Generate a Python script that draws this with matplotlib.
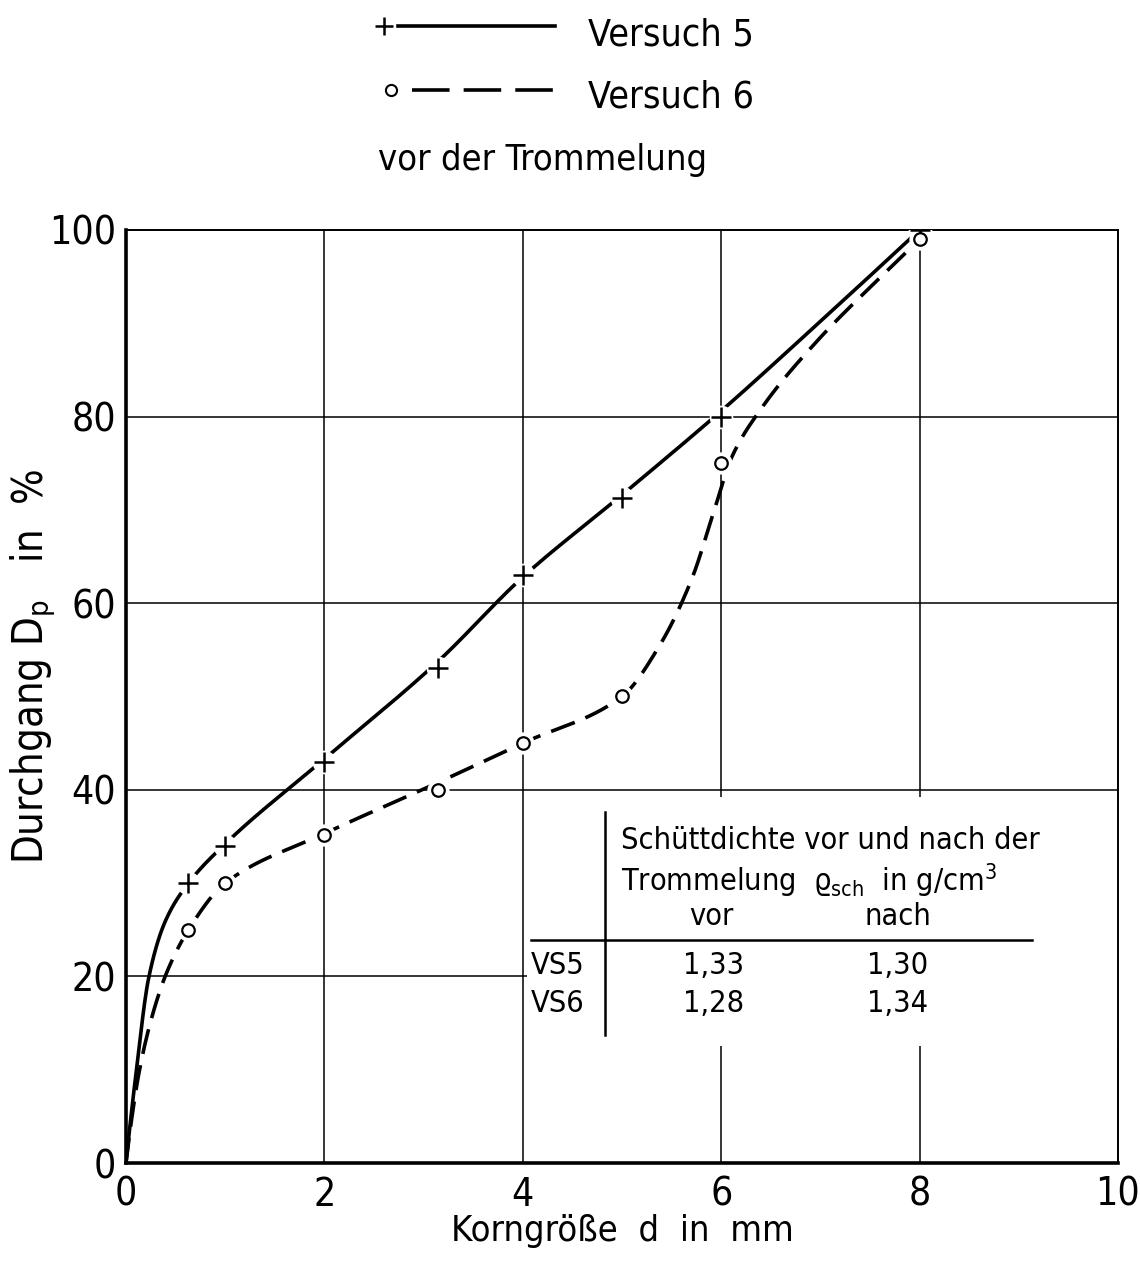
#!/usr/bin/env python3

import matplotlib
matplotlib.use('Agg')
import matplotlib.pyplot as plt
from matplotlib.lines import Line2D
from matplotlib.patches import Rectangle
import numpy as np

# Siebdurchgang (Korngröße in mm, Durchgang in %)
korn_v5 = [0.63, 1.0, 2.0, 3.15, 4.0, 5.0, 6.0, 8.0]
durchgang_v5 = [30.0, 34.0, 43.0, 53.0, 63.0, 71.3, 80.0, 100.0]
korn_v6 = [0.63, 1.0, 2.0, 3.15, 4.0, 5.0, 6.0, 8.0]
durchgang_v6 = [25.0, 30.0, 35.2, 40.0, 45.0, 50.0, 75.0, 99.0]

# Stützpunkte der von Hand gezogenen Ausgleichskurven
kurve_v5_x = [0.0, 0.1, 0.23, 0.4, 0.63, 1.0, 2.0, 3.15, 4.0, 5.0, 6.0, 7.0,
              8.0]
kurve_v5_y = [0.0, 9.5, 19.9, 26.0, 30.0, 34.2, 43.3, 53.8, 62.8, 71.6,
              80.6, 90.2, 100.0]
kurve_v6_x = [0.0, 0.13, 0.26, 0.41, 0.63, 1.0, 2.0, 3.15, 4.0, 5.0, 5.37,
              5.7, 5.94, 6.1, 6.4, 6.95, 7.65, 8.0]
kurve_v6_y = [0.0, 9.6, 15.6, 20.4, 25.0, 30.0, 35.3, 40.8, 45.0, 50.0,
              55.3, 62.5, 70.3, 75.5, 80.8, 87.9, 95.4, 99.0]

# Schüttdichte in g/cm3
proben = ['VS5', 'VS6']
dichte_vor = [1.33, 1.28]
dichte_nach = [1.30, 1.34]

x_ticks = [0, 2, 4, 6, 8, 10]
y_ticks = [0, 20, 40, 60, 80, 100]

FONT = 'DejaVu Sans'


def pchip(x, y, xs):
    """Monotone kubische Interpolation (Fritsch-Carlson)."""
    x = np.asarray(x, float)
    y = np.asarray(y, float)
    h = np.diff(x)
    d = np.diff(y) / h
    m = np.zeros_like(y)
    for k in range(1, len(x) - 1):
        if d[k - 1] * d[k] > 0:
            w1 = 2 * h[k] + h[k - 1]
            w2 = h[k] + 2 * h[k - 1]
            m[k] = (w1 + w2) / (w1 / d[k - 1] + w2 / d[k])
    m[0] = ((2 * h[0] + h[1]) * d[0] - h[0] * d[1]) / (h[0] + h[1])
    if np.sign(m[0]) != np.sign(d[0]):
        m[0] = 0.0
    m[-1] = ((2 * h[-1] + h[-2]) * d[-1] - h[-1] * d[-2]) / (h[-1] + h[-2])
    if np.sign(m[-1]) != np.sign(d[-1]):
        m[-1] = 0.0
    i = np.clip(np.searchsorted(x, xs) - 1, 0, len(h) - 1)
    t = (xs - x[i]) / h[i]
    h00 = 2 * t**3 - 3 * t**2 + 1
    h10 = t**3 - 2 * t**2 + t
    h01 = -2 * t**3 + 3 * t**2
    h11 = t**3 - t**2
    return h00 * y[i] + h10 * h[i] * m[i] + h01 * y[i + 1] + h11 * h[i] * m[i + 1]


def main():
    plt.rcParams['font.family'] = FONT
    plt.rcParams['font.stretch'] = 'condensed'
    plt.rcParams['mathtext.fontset'] = 'custom'
    plt.rcParams['mathtext.rm'] = FONT + ':stretch=condensed'
    plt.rcParams['mathtext.it'] = FONT + ':stretch=condensed'

    fig = plt.figure(figsize=(11.4, 12.69), dpi=100)
    ax = fig.add_axes([0.1105, 0.0835, 0.8702, 0.7353])

    ax.set_xlim(0, 10)
    ax.set_ylim(0, 100)
    ax.set_xticks(x_ticks)
    ax.set_yticks(y_ticks)
    ax.set_xticklabels([str(v) for v in x_ticks])
    ax.set_yticklabels([str(v) for v in y_ticks])
    ax.tick_params(length=0, labelsize=28, colors='black')
    ax.tick_params(axis='x', pad=9)
    ax.tick_params(axis='y', pad=7)
    ax.grid(True, color='black', linewidth=1.1)
    ax.set_axisbelow(True)
    for side in ('left', 'bottom'):
        ax.spines[side].set_linewidth(2.6)
    for side in ('top', 'right'):
        ax.spines[side].set_linewidth(1.4)

    ax.set_xlabel('Korngröße  d  in  mm', fontsize=26, labelpad=0)
    ax.set_ylabel(r'Durchgang $\mathrm{D_p}$   in  %', fontsize=30)
    ax.yaxis.set_label_coords(-0.069, 0.532)

    # Ausgleichskurven
    xs5 = np.linspace(kurve_v5_x[0], kurve_v5_x[-1], 800)
    ax.plot(xs5, pchip(kurve_v5_x, kurve_v5_y, xs5), color='black',
            linewidth=2.6, solid_capstyle='butt', zorder=3)
    xs6 = np.linspace(kurve_v6_x[0], kurve_v6_x[-1], 800)
    ax.plot(xs6, pchip(kurve_v6_x, kurve_v6_y, xs6), color='black',
            linewidth=2.6, dashes=(7, 3.2), zorder=3)

    # Messpunkte mit weißem Freiraum um die Zeichen
    ax.plot(korn_v5, durchgang_v5, linestyle='none', marker='o',
            markersize=17, markerfacecolor='white', markeredgewidth=0,
            zorder=4)
    ax.plot(korn_v6, durchgang_v6, linestyle='none', marker='o',
            markersize=16, markerfacecolor='white', markeredgewidth=0,
            zorder=4)
    ax.plot(korn_v5, durchgang_v5, linestyle='none', marker='+',
            markersize=15, markeredgewidth=1.8, color='black', zorder=5)
    ax.plot(korn_v6, durchgang_v6, linestyle='none', marker='o',
            markersize=9, markeredgewidth=1.6, markerfacecolor='white',
            markeredgecolor='black', zorder=5)

    # Tabelle der Schüttdichten
    ax.add_patch(Rectangle((4.04, 12.5), 5.96, 26.7, facecolor='white',
                           edgecolor='none', zorder=1))
    ax.plot([4.83, 4.83], [13.7, 37.6], color='black', linewidth=1.8,
            zorder=2)
    ax.plot([4.08, 9.13], [23.9, 23.9], color='black', linewidth=1.8,
            zorder=2)
    tsize = 22
    ax.text(4.99, 34.6, 'Schüttdichte vor und nach der', fontsize=tsize,
            ha='left', va='center', zorder=2)
    ax.text(4.99, 30.3,
            r'Trommelung  $\varrho_{\mathrm{sch}}$  in g/cm$^3$',
            fontsize=tsize, ha='left', va='center', zorder=2)
    ax.text(5.9, 26.4, 'vor', fontsize=tsize, ha='center', va='center',
            zorder=2)
    ax.text(7.78, 26.4, 'nach', fontsize=tsize, ha='center', va='center',
            zorder=2)
    for probe, vor, nach, y in zip(proben, dichte_vor, dichte_nach,
                                   [21.2, 17.1]):
        ax.text(4.08, y, probe, fontsize=tsize, ha='left', va='center',
                zorder=2)
        ax.text(5.92, y, f'{vor:.2f}'.replace('.', ','), fontsize=tsize,
                ha='center', va='center', zorder=2)
        ax.text(7.78, y, f'{nach:.2f}'.replace('.', ','), fontsize=tsize,
                ha='center', va='center', zorder=2)

    # Legende oberhalb des Diagramms
    W, H = 1140.0, 1269.0

    def fx(px):
        return px / W

    def fy(py):
        return 1 - py / H

    fig.add_artist(Line2D([fx(384)], [fy(26)], marker='+', markersize=13,
                          markeredgewidth=1.8, color='black'))
    fig.add_artist(Line2D([fx(398), fx(555)], [fy(26), fy(26)],
                          color='black', linewidth=2.6))
    fig.add_artist(Line2D([fx(391)], [fy(90)], marker='o', markersize=8,
                          markeredgewidth=1.5, markerfacecolor='white',
                          markeredgecolor='black'))
    fig.add_artist(Line2D([fx(412), fx(554)], [fy(90), fy(90)],
                          color='black', linewidth=2.6,
                          dashes=(10.4, 3.9)))
    fig.text(fx(588), fy(45), 'Versuch 5', fontsize=27, va='baseline')
    fig.text(fx(588), fy(108), 'Versuch 6', fontsize=27, va='baseline')
    fig.text(fx(378), fy(170), 'vor der Trommelung', fontsize=26,
             va='baseline')

    fig.savefig('out.png', dpi=100, facecolor='white')


if __name__ == '__main__':
    main()
